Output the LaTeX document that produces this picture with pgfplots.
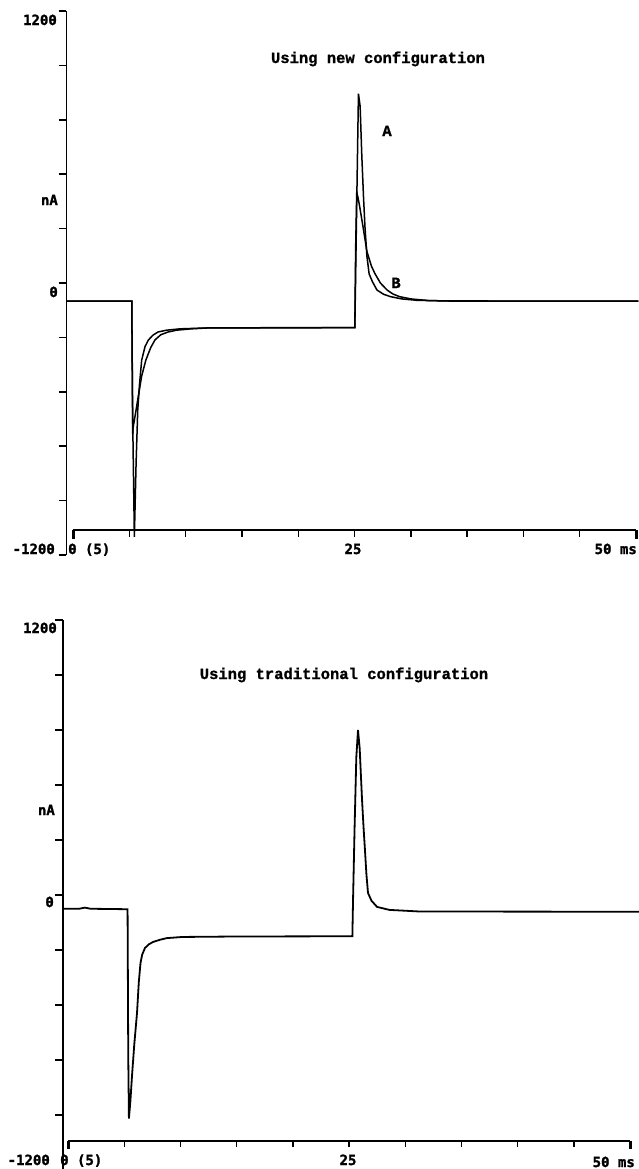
\documentclass[border=0pt]{standalone}
\usepackage{pgfplots}
\pgfplotsset{compat=1.18}
\usepackage{fontspec}
\newfontfamily\labfam{DejaVu Sans Mono}[BoldFont={DejaVu Sans Mono Bold}, BoldFeatures={FakeBold=1.6}]
\newfontfamily\ttlfam{Liberation Mono}[BoldFont={Liberation Mono Bold}, BoldFeatures={FakeBold=1.2}]
\newcommand\labf{\labfam\bfseries\fontsize{14bp}{16bp}\selectfont}
\newcommand\ttlf{\ttlfam\bfseries\fontsize{15.5bp}{18bp}\selectfont}
\begin{document}
\begin{tikzpicture}
\useasboundingbox (0,0) rectangle (639bp,-1169bp);
% ---------------- top panel ----------------
\begin{axis}[at={(66.47bp,-566.4bp)}, anchor=south west,
  x=11.26bp, y=0.2267bp, xmin=-0.58, xmax=50.2, ymin=-1250, ymax=1250,
  hide axis, clip=false]
\addplot[black, line width=1.5bp] coordinates {
(-0.58,-80) (5.22,-80) (5.3,-600) (5.45,-1120) (5.6,-800) (5.75,-560) (5.9,-450)
(6.1,-340) (6.4,-280) (6.7,-251) (7.1,-230) (7.55,-216) (8.3,-208) (9.5,-202)
(12,-198) (18,-197) (25.03,-197) (25.15,200) (25.35,835) (25.5,780) (25.65,560)
(25.8,380) (25.93,247) (26.1,120) (26.3,40) (26.6,5) (27.0,-31) (27.6,-50)
(28.2,-60) (29.2,-70) (30.5,-76) (33,-79) (50.2,-80)};
\addplot[black, line width=1.5bp] coordinates {
(-0.58,-80) (5.22,-80) (5.3,-666) (5.33,-640) (5.5,-590) (5.7,-530) (5.9,-470)
(6.1,-410) (6.47,-340) (6.9,-285) (7.28,-251) (7.8,-228) (8.44,-216) (9.2,-208)
(10.5,-202) (12,-198) (25.03,-197) (25.1,150) (25.2,400) (25.3,380) (25.45,340)
(25.75,250) (26.1,140) (26.5,75) (26.8,43) (27.3,0) (27.9,-31) (28.4,-48)
(29.0,-60) (30.0,-70) (31.5,-77) (34,-80) (50.2,-80)};
\end{axis}
% ---------------- bottom panel ----------------
\begin{axis}[at={(62.94bp,-1181.5bp)}, anchor=south west,
  x=11.24bp, y=0.2292bp, xmin=-0.45, xmax=50.8, ymin=-1250, ymax=1250,
  hide axis, clip=false]
\addplot[black, line width=1.8bp] coordinates {
(-0.45,-60) (1,-60) (1.5,-55) (2,-60) (5.3,-62) (5.36,-700) (5.42,-975)
(5.55,-900) (5.7,-785) (5.9,-650) (6.14,-515) (6.3,-380) (6.45,-297) (6.6,-260)
(6.85,-231) (7.2,-215) (7.56,-205) (8.2,-195) (8.8,-188) (10.2,-183) (15,-181)
(25.3,-180) (25.36,-20) (25.5,300) (25.65,600) (25.8,720) (25.95,640)
(26.16,415) (26.3,290) (26.42,196) (26.55,90) (26.69,9) (27.0,-25) (27.5,-52)
(28.6,-65) (31.3,-72) (50.8,-73)};
\end{axis}
% ---------------- axis decorations (absolute) ----------------
% top
\draw[line width=1.8bp] (66.47bp,-555bp) -- (66.47bp,-11bp);
\foreach \py in {11,65.4,119.8,174.2,228.6,283,337.4,391.8,446.2,500.6,555}
  \draw[line width=1.5bp] (58.5bp,-\py bp) -- (66.47bp,-\py bp);
\draw[line width=1.8bp] (73bp,-530.1bp) -- (636bp,-530.1bp);
\foreach \k in {1,...,9}
  \draw[line width=1.4bp] ({(73+56.3*\k)*1bp},-530.1bp) -- ({(73+56.3*\k)*1bp},-536.5bp);
\draw[line width=3bp] (73bp,-530bp) -- (73bp,-538.5bp);
\draw[line width=3bp] (636bp,-530bp) -- (636bp,-538.5bp);
% bottom
\draw[line width=1.8bp] (62.94bp,-1170bp) -- (62.94bp,-620bp);
\foreach \py in {620,675,730,785,840,895,950,1005,1060,1115,1170}
  \draw[line width=1.5bp] (55bp,-\py bp) -- (62.94bp,-\py bp);
\draw[line width=1.8bp] (68bp,-1140.9bp) -- (630bp,-1140.9bp);
\foreach \k in {1,...,9}
  \draw[line width=1.4bp] ({(68+56.2*\k)*1bp},-1140.9bp) -- ({(68+56.2*\k)*1bp},-1147.3bp);
\draw[line width=3bp] (68bp,-1140.8bp) -- (68bp,-1149.3bp);
\draw[line width=3bp] (630bp,-1140.8bp) -- (630bp,-1149.3bp);
% ---------------- labels (top) ----------------
\tikzset{lb/.style={inner sep=0pt, font=\labf}, tl/.style={inner sep=0pt, font=\ttlf}}
\node[lb, anchor=base east] at (57bp,-25bp) {1200};
\node[lb, anchor=base east] at (58bp,-205bp) {nA};
\node[lb, anchor=base east] at (58bp,-297bp) {0};
\node[lb, anchor=base east] at (55bp,-554bp) {-1200};
\node[lb, anchor=base west] at (68bp,-554bp) {0 (5)};
\node[lb, anchor=base] at (353bp,-554bp) {25};
\node[lb, anchor=base east] at (637bp,-554bp) {50 ms};
\node[tl, anchor=base] at (378bp,-63bp) {Using new configuration};
\node[tl, anchor=base] at (387bp,-136bp) {A};
\node[tl, anchor=base] at (396bp,-288bp) {B};
% ---------------- labels (bottom) ----------------
\node[lb, anchor=base east] at (57bp,-633bp) {1200};
\node[lb, anchor=base east] at (55bp,-815bp) {nA};
\node[lb, anchor=base east] at (54bp,-907bp) {0};
\node[lb, anchor=base east] at (50bp,-1165bp) {-1200};
\node[lb, anchor=base west] at (60bp,-1165bp) {0 (5)};
\node[lb, anchor=base] at (348bp,-1165bp) {25};
\node[lb, anchor=base east] at (635bp,-1167bp) {50 ms};
\node[tl, anchor=base] at (344bp,-679bp) {Using traditional configuration};
\end{tikzpicture}
\end{document}
